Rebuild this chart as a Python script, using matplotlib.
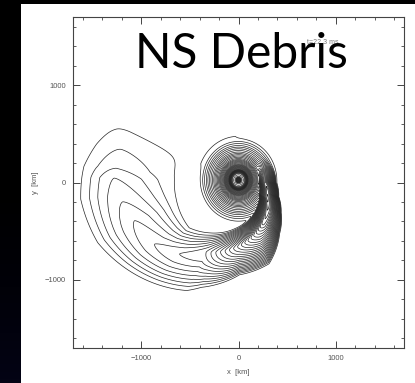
import numpy as np
import matplotlib
matplotlib.use('Agg')
import matplotlib.pyplot as plt
from matplotlib.patches import Rectangle

# Debris arm read off the picture: angle measured clockwise from +x (deg)
# inner / outer edge radius of the tail (km)
arm_u_in = [-90, -40, 0, 30, 52, 70, 96, 121, 138, 166, 198, 215]
arm_r_in = [150, 150, 160, 200, 280, 360, 476, 600, 690, 660, 640, 640]
arm_u_out = [-90, -60, -30, 0, 20, 36, 52, 70, 90, 110, 116, 137, 157, 174, 186, 195, 203, 215]
arm_r_out = [390, 390, 380, 380, 430, 530, 670, 890, 950, 1150, 1240, 1420, 1590, 1650, 1620, 1540, 1450, 1400]
# ridge of the tail (tips of the nested contour tongues) and its level
ridge_u = [-90, -40, 0, 30, 60, 90, 115.5, 130, 144, 160, 170.6, 182, 186.5, 195.3, 202.3, 215]
ridge_r = [260, 250, 260, 330, 480, 650, 791, 956, 1076, 1147, 1215, 1286, 1276, 1261, 1241, 1241]
arm_u_peak = [-95, -60, -30, 0, 30, 60, 90, 115.5, 130, 144, 160, 170.6, 182, 186.5, 195.3, 202.3, 206]
arm_peak = [0, 5, 13, 26, 28, 25, 16, 8.5, 7.5, 6.5, 5.5, 4.5, 3.5, 2.5, 1.5, 0.5, 0]

# Central remnant: radial level profile
core_center = (0, 25)
core_r = [0, 18, 25, 40, 60, 75, 100, 150, 200, 260, 330, 385, 430]
core_level = [58, 50, 44, 42, 41, 38, 28, 19, 13, 8, 3.5, 0.6, 0]

x = np.linspace(-1700, 1700, 800)
y = np.linspace(-1700, 1700, 800)
X, Y = np.meshgrid(x, y)

# spiral tail field: steep profile on both sides of the ridge
R = np.hypot(X - 10, Y)
phi = np.degrees(np.arctan2(Y, X - 10))
u = (-phi + 100) % 360 - 100
r_in = np.interp(u, arm_u_in, arm_r_in)
r_out = np.interp(u, arm_u_out, arm_r_out)
r_mid = np.interp(u, ridge_u, ridge_r)
s = np.where(R > r_mid, (R - r_mid) / (r_out - r_mid), (r_mid - R) / (r_mid - r_in))
A = np.interp(u, arm_u_peak, arm_peak, left=0, right=0)
F_arm = A * (1 - np.abs(s) ** 1.5)

# core field
Rc = np.hypot(X - core_center[0], (Y - core_center[1]) * 0.93)
F_core = np.interp(Rc, core_r, core_level, right=0)

tau = 0.6
F = tau * np.logaddexp(F_arm / tau, F_core / tau)
F = np.where(np.maximum(F_arm, F_core) < -2, -2, F)

levels = np.arange(0.5, 60, 1.0)

fig = plt.figure(figsize=(4.15, 3.83), dpi=100, facecolor='black')
fig.patches.append(Rectangle((20 / 415, 0), 395 / 415, 379 / 383,
                             transform=fig.transFigure, facecolor='white',
                             edgecolor='none', zorder=-5))

# faint navy tint in the lower left border
bg = fig.add_axes([0, 0, 20 / 415, 1], zorder=-4)
grad = np.linspace(0, 1, 100).reshape(-1, 1)
bg.imshow(grad, aspect='auto', cmap=matplotlib.colors.LinearSegmentedColormap.from_list(
    'bg', ['#000000', '#000000', '#000000', '#010108', '#030314']), origin='upper')
bg.axis('off')

ax = fig.add_axes([73 / 415, 1 - 348 / 383, 331 / 415, 331 / 383])
ax.set_facecolor('white')
ax.contour(X, Y, F, levels=levels, colors='#262626', linewidths=0.5)

ax.set_xlim(-1700, 1700)
ax.set_ylim(-1700, 1700)
ax.set_xticks([-1000, 0, 1000])
ax.set_yticks([-1000, 0, 1000])
ax.set_xticks(np.arange(-1600, 1700, 200), minor=True)
ax.set_yticks(np.arange(-1600, 1700, 200), minor=True)
ax.tick_params(which='both', direction='in', top=True, right=True,
               color='#444', labelsize=5.5, labelcolor='#555', pad=5)
ax.tick_params(which='major', length=5, width=0.7)
ax.tick_params(which='minor', length=2.5, width=0.6)
for sp in ax.spines.values():
    sp.set_color('#444')
    sp.set_linewidth(0.8)
for lab in ax.get_xticklabels() + ax.get_yticklabels():
    lab.set_family('Liberation Sans')

ax.set_xlabel('x  [km]', fontsize=5.5, color='#555', family='Liberation Sans', labelpad=5)
ax.set_ylabel('y  [km]', fontsize=5.5, color='#555', family='Liberation Sans', labelpad=4)

fig.text(323 / 415, 1 - 42 / 383, 't=22.3 ms', fontsize=5, color='#777',
         family='Liberation Sans', ha='center', va='center', zorder=5)
fig.text(241 / 415, 1 - 68 / 383, 'NS Debris', fontsize=34.5, color='black',
         family='Lato', ha='center', va='baseline', zorder=10)

fig.savefig('out.png', dpi=100, facecolor='black')
